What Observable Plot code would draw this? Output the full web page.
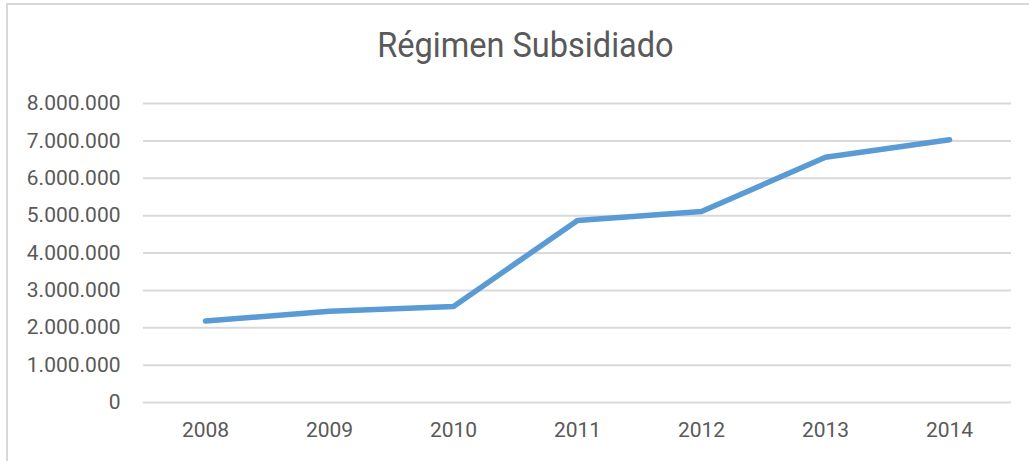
<!DOCTYPE html>
<html>
<head>
<meta charset="utf-8">
<script src="https://cdn.jsdelivr.net/npm/d3@7"></script>
<script src="https://cdn.jsdelivr.net/npm/@observablehq/plot@0.6"></script>
<style>
  html, body { margin: 0; padding: 0; background: #fff; overflow: hidden; }
  #wrap { position: relative; width: 1029px; height: 461px; }
  #frame { position: absolute; left: 6px; top: 3px; width: 1100px; height: 600px; border: 2px solid #d9d9d9; box-sizing: border-box; }
  #title { position: absolute; left: 0; top: 0; width: 1050px; height: 90px; line-height: 92px; text-align: center;
           font-family: Roboto, sans-serif; font-weight: 400; font-size: 35px; color: #595959; white-space: nowrap; }
  #title span { display: inline-block; transform: scaleX(0.93); transform-origin: 50% 50%; }
  #chart { position: absolute; left: 0; top: 90px; }
  #chart svg text { fill: #595959; }
</style>
</head>
<body>
<div id="wrap">
  <div id="frame"></div>
  <div id="title"><span>Régimen Subsidiado</span></div>
  <div id="chart"></div>
</div>
<script>
const years = ["2008", "2009", "2010", "2011", "2012", "2013", "2014"];
const afiliados = [2180000, 2440000, 2570000, 4870000, 5110000, 6560000, 7030000];
const yTicks = [0, 1000000, 2000000, 3000000, 4000000, 5000000, 6000000, 7000000, 8000000];

const data = years.map((y, i) => ({year: y, value: afiliados[i]}));
const loc = d3.formatLocale({decimal: ",", thousands: ".", grouping: [3], currency: ["", ""]});
const fmt = loc.format(",");

const chart = Plot.plot({
  width: 1029,
  height: 371,
  marginLeft: 143,
  marginRight: 18,
  marginTop: 13,
  marginBottom: 59,
  style: {fontFamily: "Roboto, sans-serif", fontSize: "21px", color: "#595959", background: "transparent"},
  x: {type: "point", domain: years, padding: 0.5, label: null},
  y: {domain: [0, 8000000], label: null},
  marks: [
    Plot.gridY(yTicks, {stroke: "#d9d9d9", strokeOpacity: 1, strokeWidth: 2}),
    Plot.axisY(yTicks, {tickSize: 0, tickPadding: 23, tickFormat: fmt, label: null}),
    Plot.axisX({tickSize: 0, tickPadding: 20, label: null}),
    Plot.line(data, {x: "year", y: "value", stroke: "#5b9bd5", strokeWidth: 5.5, strokeLinecap: "round", strokeLinejoin: "round"})
  ]
});
document.getElementById("chart").appendChild(chart);
</script>
</body>
</html>
